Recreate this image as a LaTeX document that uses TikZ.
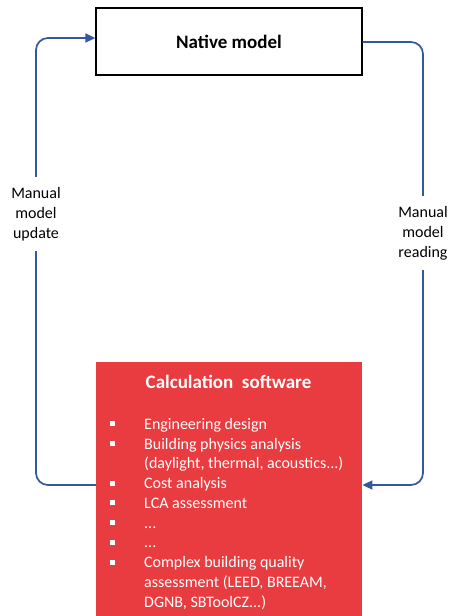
\documentclass[tikz,border=0pt]{standalone}
\usepackage{fontspec}
\setmainfont{Carlito}
\usetikzlibrary{arrows.meta}
\definecolor{flowblue}{RGB}{52,88,160}
\definecolor{calcred}{RGB}{233,60,64}
\tikzset{
  modelbox/.style={draw=black, line width=1.3pt, fill=white, minimum width=266pt, minimum height=67pt, inner sep=0pt},
  calcbox/.style={fill=calcred, minimum width=266pt, minimum height=254pt, inner sep=0pt},
  flow/.style={draw=flowblue, line width=1.7pt, rounded corners=12pt, -{Triangle[length=10pt,width=9pt]}},
  flowlabel/.style={fill=white, align=center, font=\fontsize{16}{20}\selectfont, inner sep=0pt, minimum height=74pt},
}
\newcommand{\sqbullet}{\makebox[34pt][l]{\raisebox{3pt}{\rule{5pt}{5pt}}}}
\begin{document}
\begin{tikzpicture}[x=1pt,y=-1pt]
\useasboundingbox (0,0) rectangle (448,616);
% boxes
\node[modelbox] (native) at (229,41.5) {\fontsize{19}{22}\selectfont\bfseries Native model};
\node[calcbox, anchor=north west] (calc) at (96,362) {};
\node[anchor=north, text=white, font=\fontsize{19}{22}\selectfont\bfseries] (calctitle) at (228.5,372) {Calculation\ \ software};
\node[anchor=north west, text=white, align=left, inner sep=0pt, font=\fontsize{16}{19.75}\selectfont] (calclist) at (110,418) {%
\sqbullet Engineering design\\
\sqbullet Building physics analysis\\
\hspace*{34pt}(daylight, thermal, acoustics...)\\
\sqbullet Cost analysis\\
\sqbullet LCA assessment\\
\sqbullet ...\\
\sqbullet ...\\
\sqbullet Complex building quality\\
\hspace*{34pt}assessment (LEED, BREEAM,\\
\hspace*{34pt}DGNB, SBToolCZ...)};
% connector corners
\coordinate (lb) at (36,485);
\coordinate (lt) at (36,38);
\coordinate (rt) at (423,42);
\coordinate (rb) at (423,485);
% manual model update (left loop)
\draw[flow] (calc.west |- lb) -- (lb) -- (lt) -- (native.west |- lt);
\node[flowlabel] (update) at (36,214) {Manual\\model\\update};
% manual model reading (right loop)
\draw[flow] (native.east |- rt) -- (rt) -- (rb) -- (calc.east |- rb);
\node[flowlabel] (reading) at (423,233) {Manual\\model\\reading};
\end{tikzpicture}
\end{document}
